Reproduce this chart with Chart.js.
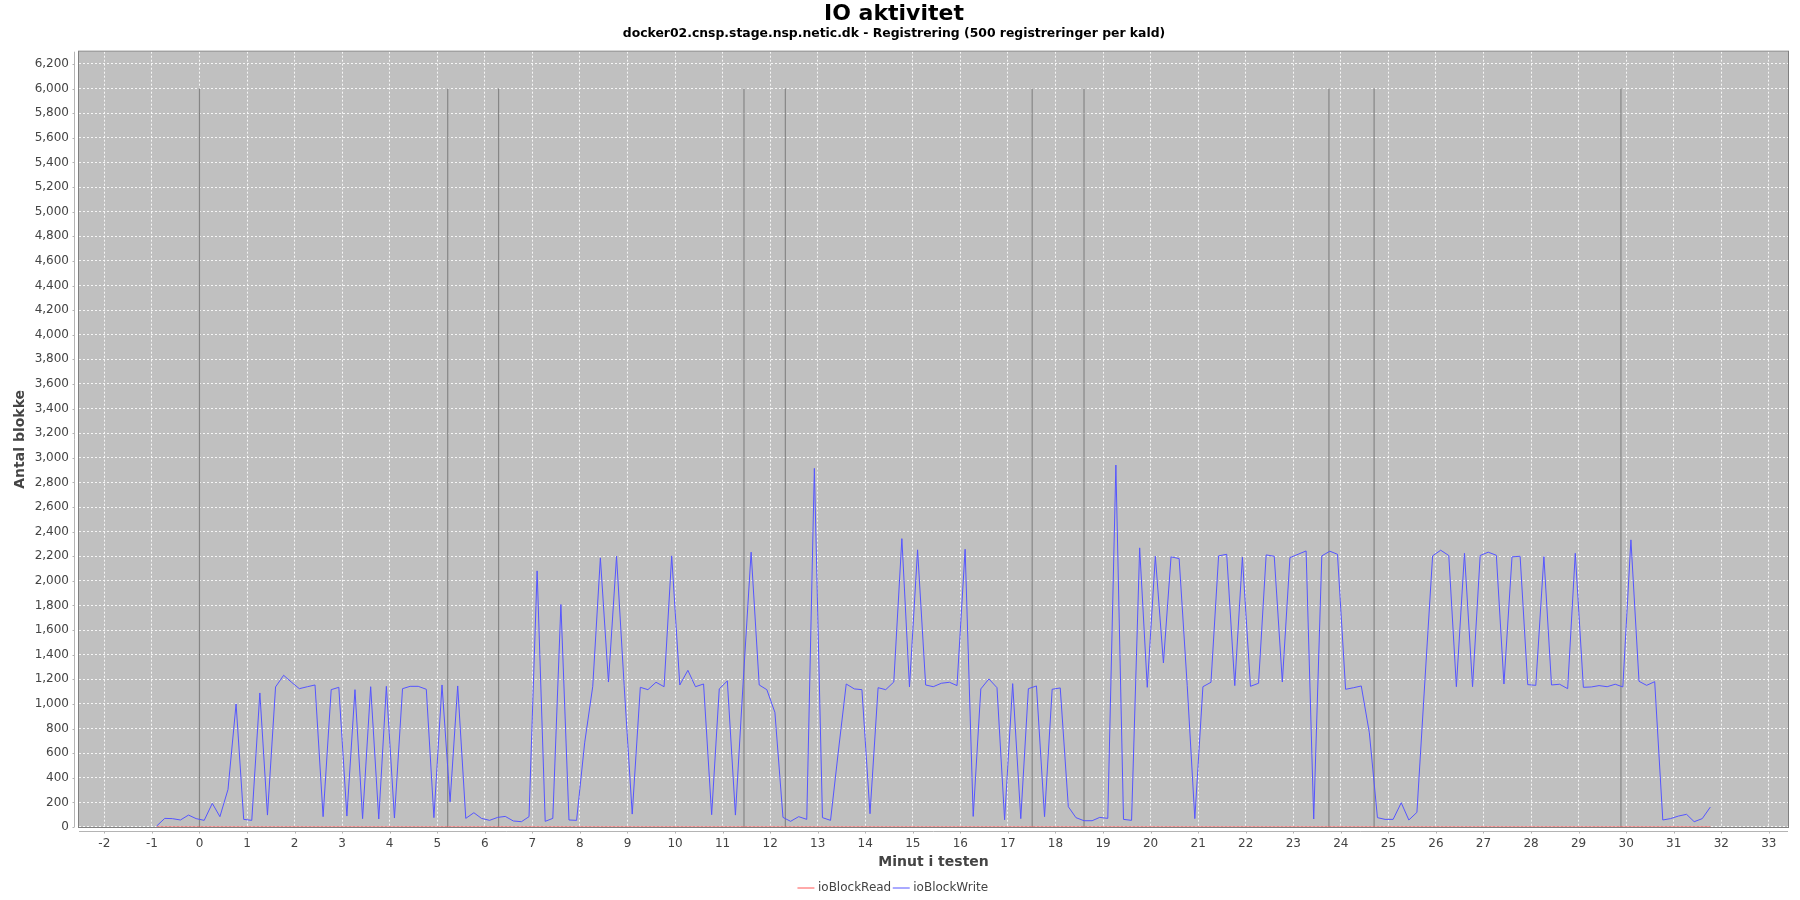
<!DOCTYPE html>
<html>
<head>
<meta charset="utf-8">
<title>IO aktivitet</title>
<script src="https://cdn.jsdelivr.net/npm/chart.js@4.4.1/dist/chart.umd.min.js"></script>
<style>
  html, body { margin: 0; padding: 0; background: #ffffff; }
  canvas { display: block; }
</style>
</head>
<body>
<canvas id="chart" width="1800" height="900"></canvas>
<script>
// Sample times (minutes into the test), one sample every ~10 s
const minutes = [
  -0.9, -0.73, -0.57, -0.4, -0.23, -0.07,
  0.1, 0.27, 0.43, 0.6, 0.77, 0.93,
  1.1, 1.27, 1.43, 1.6, 1.77, 1.93,
  2.1, 2.27, 2.43, 2.6, 2.77, 2.93,
  3.1, 3.27, 3.43, 3.6, 3.77, 3.93,
  4.1, 4.27, 4.43, 4.6, 4.77, 4.93,
  5.1, 5.27, 5.43, 5.6, 5.77, 5.93,
  6.1, 6.27, 6.43, 6.6, 6.77, 6.93,
  7.1, 7.27, 7.43, 7.6, 7.77, 7.93,
  8.1, 8.27, 8.43, 8.6, 8.77, 8.93,
  9.1, 9.27, 9.43, 9.6, 9.77, 9.93,
  10.1, 10.27, 10.43, 10.6, 10.77, 10.93,
  11.1, 11.27, 11.43, 11.6, 11.77, 11.93,
  12.1, 12.27, 12.43, 12.6, 12.77, 12.93,
  13.1, 13.27, 13.43, 13.6, 13.77, 13.93,
  14.1, 14.27, 14.43, 14.6, 14.77, 14.93,
  15.1, 15.27, 15.43, 15.6, 15.77, 15.93,
  16.1, 16.27, 16.43, 16.6, 16.77, 16.93,
  17.1, 17.27, 17.43, 17.6, 17.77, 17.93,
  18.1, 18.27, 18.43, 18.6, 18.77, 18.93,
  19.1, 19.27, 19.43, 19.6, 19.77, 19.93,
  20.1, 20.27, 20.43, 20.6, 20.77, 20.93,
  21.1, 21.27, 21.43, 21.6, 21.77, 21.93,
  22.1, 22.27, 22.43, 22.6, 22.77, 22.93,
  23.1, 23.27, 23.43, 23.6, 23.77, 23.93,
  24.1, 24.27, 24.43, 24.6, 24.77, 24.93,
  25.1, 25.27, 25.43, 25.6, 25.77, 25.93,
  26.1, 26.27, 26.43, 26.6, 26.77, 26.93,
  27.1, 27.27, 27.43, 27.6, 27.77, 27.93,
  28.1, 28.27, 28.43, 28.6, 28.77, 28.93,
  29.1, 29.27, 29.43, 29.6, 29.77, 29.93,
  30.1, 30.27, 30.43, 30.6, 30.77, 30.93,
  31.1, 31.27, 31.43, 31.6, 31.77
]

const ioBlockWrite = [
  8, 70, 68, 57, 97, 68,
  54, 192, 84, 305, 1000, 62,
  54, 1089, 97, 1138, 1233, 1178,
  1124, 1140, 1154, 84, 1116, 1135,
  89, 1116, 68, 1140, 65, 1143,
  73, 1124, 1143, 1143, 1119, 76,
  1154, 205, 1146, 70, 116, 70,
  54, 78, 86, 49, 43, 84,
  2081, 46, 70, 1808, 57, 54,
  684, 1143, 2187, 1178, 2200, 1150,
  105, 1135, 1116, 1176, 1140, 2203,
  1154, 1273, 1140, 1162, 100, 1122,
  1187, 97, 1160, 2233, 1154, 1116,
  932, 78, 46, 84, 62, 2914,
  76, 54, 600, 1162, 1122, 1116,
  108, 1132, 1116, 1178, 2343, 1138,
  2252, 1154, 1140, 1168, 1176, 1149,
  2257, 86, 1122, 1203, 1132, 59,
  1165, 68, 1124, 1146, 84, 1119,
  1130, 165, 76, 51, 51, 78,
  70, 2941, 62, 54, 2268, 1135,
  2200, 1333, 2195, 2181, 1150, 68,
  1140, 1176, 2203, 2216, 1149, 2192,
  1143, 1168, 2211, 2200, 1178, 2189,
  2216, 2243, 65, 2203, 2241, 2216,
  1119, 1132, 1146, 765, 76, 62,
  62, 197, 57, 119, 1200, 2203,
  2249, 2206, 1140, 2224, 1140, 2206,
  2233, 2208, 1162, 2195, 2200, 1157,
  1151, 2197, 1154, 1160, 1124, 2224,
  1135, 1138, 1149, 1140, 1160, 1138,
  2333, 1184, 1151, 1181, 57, 68,
  89, 103, 43, 68, 162
]

const ioBlockRead = [
  0, 0, 0, 0, 0, 0,  0, 0, 0, 0, 0, 0,  0, 0, 0, 0, 0, 0,
  0, 0, 0, 0, 0, 0,  0, 0, 0, 0, 0, 0,  0, 0, 0, 0, 0, 0,
  0, 0, 0, 0, 0, 0,  0, 0, 0, 0, 0, 0,  0, 0, 0, 0, 0, 0,
  0, 0, 0, 0, 0, 0,  0, 0, 0, 0, 0, 0,  0, 0, 0, 0, 0, 0,
  0, 0, 0, 0, 0, 0,  0, 0, 0, 0, 0, 0,  0, 0, 0, 0, 0, 0,
  0, 0, 0, 0, 0, 0,  0, 0, 0, 0, 0, 0,  0, 0, 0, 0, 0, 0,
  0, 0, 0, 0, 0, 0,  0, 0, 0, 0, 0, 0,  0, 0, 0, 0, 0, 0,
  0, 0, 0, 0, 0, 0,  0, 0, 0, 0, 0, 0,  0, 0, 0, 0, 0, 0,
  0, 0, 0, 0, 0, 0,  0, 0, 0, 0, 0, 0,  0, 0, 0, 0, 0, 0,
  0, 0, 0, 0, 0, 0,  0, 0, 0, 0, 0, 0,  0, 0, 0, 0, 0, 0,
  0, 0, 0, 0, 0, 0,  0, 0, 0, 0, 0, 0,  0, 0, 0, 0, 0
]

// Vertical phase markers (minute) drawn from 0 up to markerTop
const markerMinutes = [0, 5.22, 6.29, 11.45, 12.32, 17.51, 18.6, 23.75, 24.7, 29.89]
const markerTop = 6000

const xTickValues = [
  -2, -1, 0, 1, 2, 3, 4, 5, 6, 7, 8, 9, 10, 11, 12, 13, 14, 15, 16, 17,
  18, 19, 20, 21, 22, 23, 24, 25, 26, 27, 28, 29, 30, 31, 32, 33
]
const yTickValues = [
  0, 200, 400, 600, 800, 1000, 1200, 1400, 1600, 1800, 2000, 2200, 2400, 2600, 2800, 3000,
  3200, 3400, 3600, 3800, 4000, 4200, 4400, 4600, 4800, 5000, 5200, 5400, 5600, 5800, 6000, 6200
]

const FONT = "'DejaVu Sans', sans-serif"
Chart.defaults.font.family = FONT

const pts = (ys) => minutes.map((m, i) => ({ x: m, y: ys[i] }))

const datasets = [
  {
    label: "ioBlockRead",
    data: pts(ioBlockRead),
    borderColor: "#ff5555",
    backgroundColor: "#ff5555",
    borderWidth: 1,
    pointRadius: 0,
    order: 1
  },
  {
    label: "ioBlockWrite",
    data: pts(ioBlockWrite),
    borderColor: "#5555ff",
    backgroundColor: "#5555ff",
    borderWidth: 1,
    pointRadius: 0,
    order: 0
  }
]

markerMinutes.forEach((m) => {
  datasets.push({
    label: "marker",
    data: [{ x: m, y: 0 }, { x: m, y: markerTop }],
    borderColor: "#868686",
    borderWidth: 1.2,
    pointRadius: 0,
    order: 2
  })
})

// plot background, outline and the offset axis lines as JFreeChart draws them
const plotFrame = {
  id: "plotFrame",
  beforeDraw(chart) {
    const { ctx, chartArea: a } = chart
    ctx.save()
    ctx.fillStyle = "#c0c0c0"
    ctx.fillRect(a.left, a.top, a.right - a.left, a.bottom - a.top)
    ctx.restore()
  },
  afterDatasetsDraw(chart) {
    const { ctx, chartArea: a, scales } = chart
    ctx.save()
    ctx.strokeStyle = "#808080"
    ctx.lineWidth = 1
    ctx.strokeRect(a.left - 0.5, a.top - 0.5, a.right - a.left + 1, a.bottom - a.top + 1)

    ctx.strokeStyle = "#b4b4b4"
    ctx.beginPath()
    const ax = a.left - 4.5
    const ay = a.bottom + 4.5
    ctx.moveTo(ax, a.top); ctx.lineTo(ax, a.bottom)
    ctx.moveTo(a.left, ay); ctx.lineTo(a.right, ay)
    scales.x.ticks.forEach((t) => {
      const px = Math.round(scales.x.getPixelForValue(t.value)) + 0.5
      ctx.moveTo(px, ay); ctx.lineTo(px, ay + 2)
    })
    scales.y.ticks.forEach((t) => {
      const py = Math.round(scales.y.getPixelForValue(t.value)) + 0.5
      ctx.moveTo(ax, py); ctx.lineTo(ax - 2, py)
    })
    ctx.stroke()
    ctx.restore()
  }
}

new Chart(document.getElementById("chart"), {
  type: "line",
  data: { datasets },
  plugins: [plotFrame],
  options: {
    responsive: false,
    animation: false,
    locale: "en-US",
    layout: { padding: { left: 0, right: 12, top: 0, bottom: -4 } },
    elements: { line: { tension: 0 } },
    plugins: {
      title: {
        display: true,
        text: "IO aktivitet",
        color: "#000000",
        font: { size: 22, weight: "bold", lineHeight: 1.1 },
        padding: { top: 2, bottom: 0 }
      },
      subtitle: {
        display: true,
        text: "docker02.cnsp.stage.nsp.netic.dk - Registrering (500 registreringer per kald)",
        color: "#000000",
        font: { size: 12.4, weight: "bold", lineHeight: 1.2 },
        padding: { top: 0, bottom: 10.6 }
      },
      legend: {
        position: "bottom",
        labels: {
          filter: (item) => item.text !== "marker",
          sort: (a, b) => a.datasetIndex - b.datasetIndex,
          usePointStyle: true,
          pointStyle: "line",
          boxWidth: 14,
          padding: 4,
          color: "#444444",
          font: { size: 12 }
        }
      },
      tooltip: { enabled: false }
    },
    scales: {
      x: {
        type: "linear",
        min: -2.533,
        max: 33.403,
        afterBuildTicks: (scale) => { scale.ticks = xTickValues.map((v) => ({ value: v })) },
        afterFit: (scale) => { scale.height = 51 },
        ticks: { color: "#444444", font: { size: 12 }, padding: 10, maxRotation: 0, autoSkip: false },
        grid: { color: "rgba(255,255,255,0.85)", lineWidth: 1, drawTicks: false },
        border: { display: false, dash: [2, 2] },
        title: {
          display: true,
          text: "Minut i testen",
          color: "#444444",
          font: { size: 14, weight: "bold", lineHeight: 1.2 },
          padding: { top: 0, bottom: 7.6 }
        }
      },
      y: {
        type: "linear",
        min: 0,
        max: 6300,
        afterBuildTicks: (scale) => { scale.ticks = yTickValues.map((v) => ({ value: v })) },
        afterFit: (scale) => { scale.width = 79 },
        ticks: {
          color: "#444444",
          font: { size: 12 },
          padding: 10,
          autoSkip: false,
          callback: (v) => v.toLocaleString("en-US")
        },
        grid: { color: "rgba(255,255,255,0.85)", lineWidth: 1, drawTicks: false },
        border: { display: false, dash: [2, 2] },
        title: {
          display: true,
          text: "Antal blokke",
          color: "#444444",
          font: { size: 14, weight: "bold", lineHeight: 1.2 },
          padding: { top: 12.3, bottom: 0 }
        }
      }
    }
  }
})
</script>
</body>
</html>
